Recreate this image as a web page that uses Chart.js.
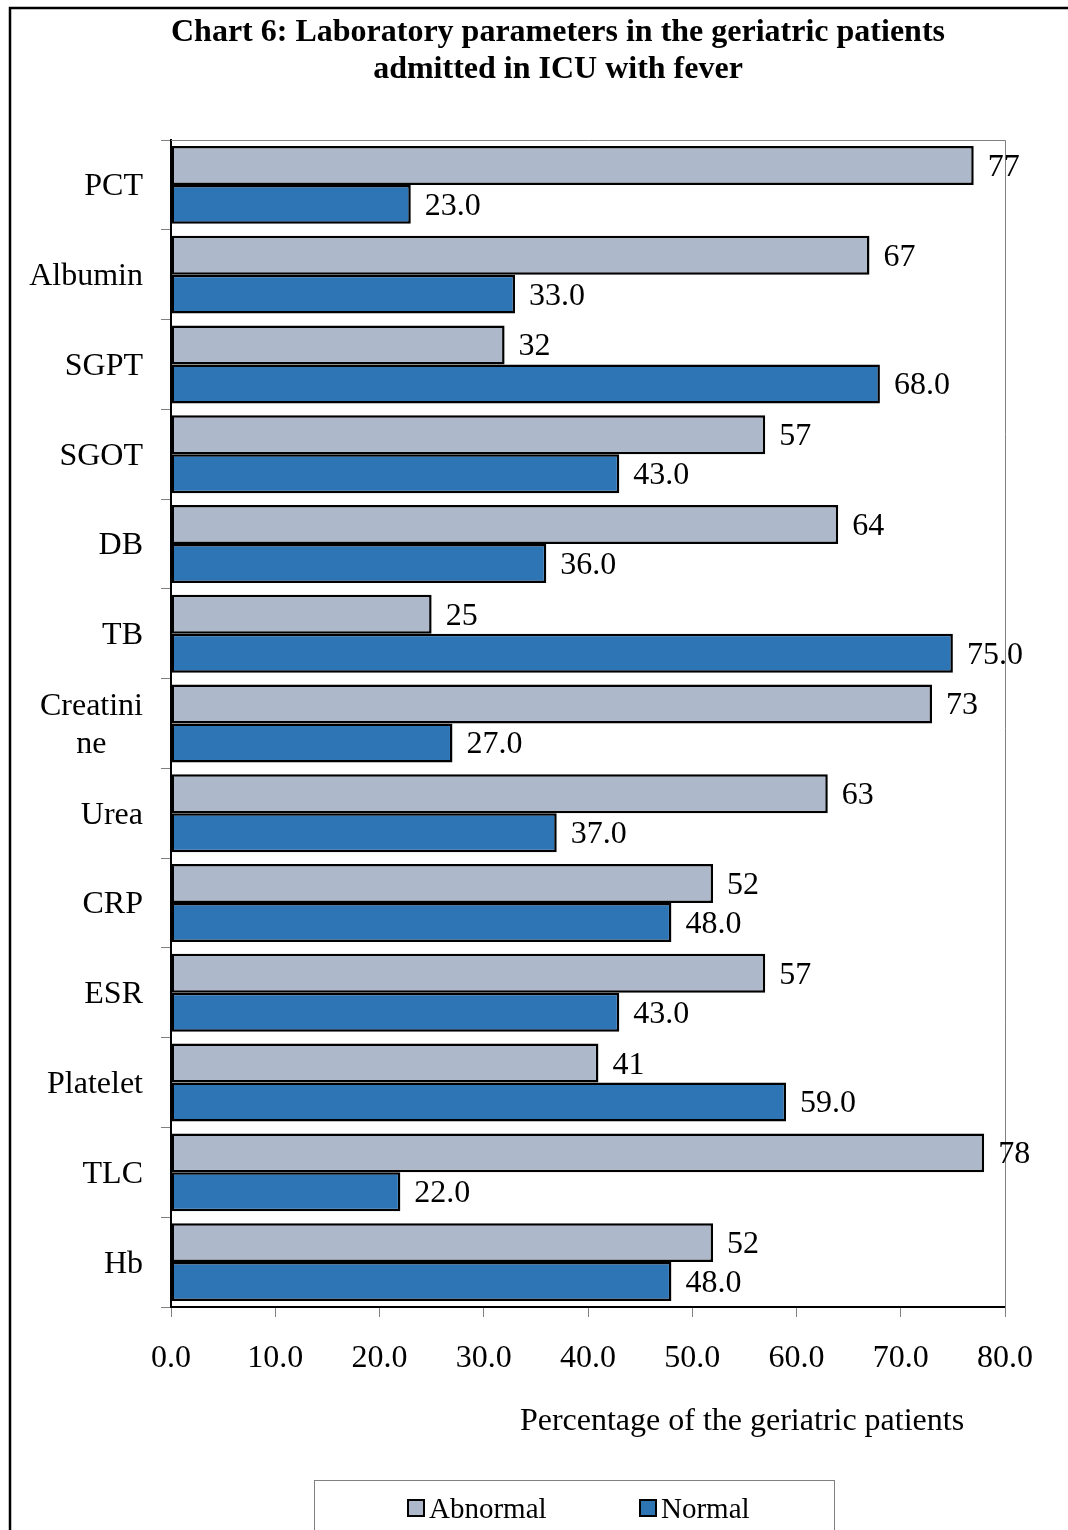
<!DOCTYPE html>
<html>
<head>
<meta charset="utf-8">
<script src="https://cdn.jsdelivr.net/npm/chart.js@4/dist/chart.umd.min.js"></script>
<style>
  html, body { margin: 0; padding: 0; background: #fff; }
  canvas { display: block; }
</style>
</head>
<body>
<canvas id="c" width="1068" height="1530"></canvas>
<script>
// Laboratory parameters, % of geriatric ICU patients with fever
const categories = ['PCT', 'Albumin', 'SGPT', 'SGOT', 'DB', 'TB', ['Creatini', 'ne'],
                    'Urea', 'CRP', 'ESR', 'Platelet', 'TLC', 'Hb'];
const abnormal = [77, 67, 32, 57, 64, 25, 73, 63, 52, 57, 41, 78, 52];
const normal   = [23, 33, 68, 43, 36, 75, 27, 37, 48, 43, 59, 22, 48];
const xTicks   = [0, 10, 20, 30, 40, 50, 60, 70, 80];
const titleLines = ['Chart 6: Laboratory parameters in the geriatric patients',
                    'admitted in ICU with fever'];
const xAxisTitle = 'Percentage of the geriatric patients';

const FONT = '"Liberation Serif", "Times New Roman", serif';
const SIZE = 32;
const LEGEND_SIZE = 29;

const decorations = {
  id: 'decorations',
  beforeDatasetsDraw(chart) {
    const { ctx, chartArea: a } = chart;
    ctx.save();
    ctx.strokeStyle = '#808080';
    ctx.lineWidth = 1;
    ctx.beginPath();
    ctx.moveTo(a.left, a.top + 0.5);
    ctx.lineTo(a.right + 0.5, a.top + 0.5);
    ctx.lineTo(a.right + 0.5, a.bottom + 10);
    ctx.stroke();
    ctx.restore();
  },
  afterDraw(chart) {
    const { ctx, chartArea: a } = chart;
    const y = chart.scales.y;
    ctx.save();

    // outer frame
    ctx.strokeStyle = '#000';
    ctx.lineWidth = 2.5;
    ctx.beginPath();
    ctx.moveTo(10, 1530);
    ctx.lineTo(10, 8);
    ctx.lineTo(1068, 8);
    ctx.stroke();

    // title
    ctx.fillStyle = '#000';
    ctx.font = 'bold 32px ' + FONT;
    ctx.textAlign = 'center';
    ctx.textBaseline = 'middle';
    titleLines.forEach((t, i) => ctx.fillText(t, 558, 33 + i * 37));

    // category labels
    ctx.font = SIZE + 'px ' + FONT;
    categories.forEach((lab, i) => {
      const lines = Array.isArray(lab) ? lab : [lab];
      const w = Math.max(...lines.map(l => ctx.measureText(l).width));
      const cx = a.left - 28 - w / 2;
      const cy = y.getPixelForValue(i) + 2;
      const lh = 38;
      lines.forEach((l, k) => {
        ctx.fillText(l, cx, cy + (k - (lines.length - 1) / 2) * lh);
      });
    });

    // value labels
    ctx.textAlign = 'left';
    chart.data.datasets.forEach((ds, di) => {
      const meta = chart.getDatasetMeta(di);
      meta.data.forEach((bar, i) => {
        const v = ds.data[i];
        const txt = di === 0 ? String(v) : v.toFixed(1);
        ctx.fillText(txt, bar.x + 14, bar.y + 2);
      });
    });

    // x axis title
    ctx.textAlign = 'center';
    ctx.fillText(xAxisTitle, 742, 1422);

    // legend
    ctx.strokeStyle = '#808080';
    ctx.lineWidth = 1;
    ctx.strokeRect(314.5, 1480.5, 520, 70);
    ctx.font = LEGEND_SIZE + 'px ' + FONT;
    const items = [[408, 0], [640, 1]];
    items.forEach(([x, di]) => {
      const ds = chart.data.datasets[di];
      ctx.fillStyle = ds.backgroundColor;
      ctx.fillRect(x, 1500, 16, 16);
      ctx.strokeStyle = '#000';
      ctx.lineWidth = 2;
      ctx.strokeRect(x, 1500, 16, 16);
      ctx.fillStyle = '#000';
      ctx.textAlign = 'left';
      ctx.fillText(ds.label, x + 21, 1510);
    });
    ctx.restore();
  }
};

new Chart(document.getElementById('c'), {
  type: 'bar',
  data: {
    labels: categories,
    datasets: [
      { label: 'Abnormal', data: abnormal, backgroundColor: '#ADB9CA',
        borderColor: '#000', borderWidth: 2.5, borderSkipped: false },
      { label: 'Normal', data: normal, backgroundColor: '#2E75B6',
        borderColor: '#000', borderWidth: 2.5, borderSkipped: false }
    ]
  },
  options: {
    indexAxis: 'y',
    responsive: false,
    animation: false,
    devicePixelRatio: 1,
    layout: { padding: { top: 140, right: 63, bottom: 0, left: 0 } },
    datasets: { bar: { categoryPercentage: 0.868, barPercentage: 1.0 } },
    plugins: {
      legend: { display: false },
      title: { display: false },
      tooltip: { enabled: false }
    },
    scales: {
      x: {
        min: 0, max: 80,
        afterFit(s) { s.height = 223; },
        afterBuildTicks(s) { s.ticks = xTicks.map(v => ({ value: v })); },
        ticks: {
          color: '#000', padding: 22,
          font: { family: FONT, size: SIZE },
          callback: v => Number(v).toFixed(1)
        },
        grid: { drawOnChartArea: false, drawTicks: true, tickLength: 10, color: '#808080' },
        border: { color: '#000', width: 2 }
      },
      y: {
        afterFit(s) { s.width = 171; },
        ticks: { display: false },
        grid: { offset: true, drawOnChartArea: false, drawTicks: true, tickLength: 10, color: '#808080' },
        border: { color: '#000', width: 2 }
      }
    }
  },
  plugins: [decorations]
});
</script>
</body>
</html>
